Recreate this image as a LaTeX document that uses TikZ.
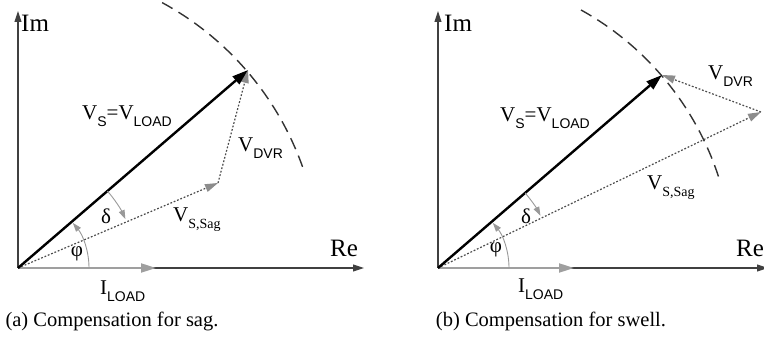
\documentclass[tikz,border=0pt]{standalone}
\usepackage{fontspec}
\setmainfont{Liberation Serif}
\newfontfamily\subsf{Liberation Sans}
\usetikzlibrary{arrows.meta}
\newcommand\ssub[1]{\raisebox{-7pt}{\fontsize{14}{14}\selectfont\subsf #1}}
\newcommand\rsub[1]{\raisebox{-7pt}{\fontsize{14}{14}\selectfont #1}}
\tikzset{
  axisline/.style={draw=black!75, line width=1.1pt, -{Triangle[length=11pt,width=7pt]}},
  vsline/.style={draw=black, line width=2.4pt, -{Triangle[length=16pt,width=10pt]}},
  dotline/.style={draw=black!70, line width=1.2pt, dash pattern=on 1.8pt off 1.8pt,
     -{Triangle[length=13pt,width=8pt,color=gray!90]}},
  iline/.style={draw=gray!75, line width=2pt, -{Triangle[length=15pt,width=9pt]}},
  angarc/.style={draw=gray!80, line width=0.9pt, -{Triangle[length=9pt,width=6pt]}},
  circarc/.style={draw=black!80, line width=1.4pt, dash pattern=on 12pt off 7pt},
  lbl/.style={font=\fontsize{21}{21}\selectfont, inner sep=0pt, anchor=base west},
  axlbl/.style={font=\fontsize{25}{25}\selectfont, inner sep=0pt, anchor=base west},
  captext/.style={font=\fontsize{20.5}{20.5}\selectfont, inner sep=0pt, anchor=base}
}
\begin{document}
\begin{tikzpicture}[x=1pt,y=1pt]
\useasboundingbox (0,0) rectangle (764,340);
% ---------- panel (a) ----------
\coordinate (Oa) at (18,72);
\coordinate (ImA) at (18,329);
\coordinate (ReA) at (364,72);
\coordinate (IA) at (156,72);
\coordinate (VSa) at (248,270);
\coordinate (SAGa) at (218,157);
\draw[axisline] (Oa) -- (ImA);
\draw[axisline] (Oa) -- (ReA);
\draw[iline] (Oa) -- (IA);
\draw[circarc] (Oa) ++(61.5:302) arc[start angle=61.5, end angle=19, radius=302];
\draw[dotline] (Oa) -- (SAGa);
\draw[dotline] (SAGa) -- (VSa);
\draw[vsline] (Oa) -- (VSa);
\draw[angarc] (Oa) ++(0:71) arc[start angle=0, end angle=39.5, radius=71];
\draw[angarc] (Oa) ++(40.7:118) arc[start angle=40.7, end angle=24.5, radius=118];
\node[axlbl] (imA) at (21,308) {Im};
\node[axlbl] (reA) at (330,83) {Re};
\node[lbl] (vsA) at (82,220) {V\ssub{S}=V\ssub{LOAD}};
\node[lbl] (dvrA) at (238,188) {V\ssub{DVR}};
\node[lbl] (sagA) at (173,118) {V\rsub{S,Sag}};
\node[lbl] (ilA) at (100,45) {I\ssub{LOAD}};
\node[lbl, anchor=center] (dA) at (106,124) {δ};
\node[lbl, anchor=center] (pA) at (77,86) {φ};
\node[captext] (capA) at (112,13) {(a) Compensation for sag.};
% ---------- panel (b) ----------
\coordinate (Ob) at (438,72);
\coordinate (ImB) at (438,329);
\coordinate (ReB) at (768,72);
\coordinate (IB) at (574,72);
\coordinate (VSb) at (662,265);
\coordinate (SAGb) at (761,228);
\draw[axisline] (Ob) -- (ImB);
\draw[axisline] (Ob) -- (ReB);
\draw[iline] (Ob) -- (IB);
\draw[circarc] (Ob) ++(61:295) arc[start angle=61, end angle=17, radius=295];
\draw[dotline] (Ob) -- (SAGb);
\draw[dotline] (SAGb) -- (VSb);
\draw[vsline] (Ob) -- (VSb);
\draw[angarc] (Ob) ++(0:71) arc[start angle=0, end angle=39.5, radius=71];
\draw[angarc] (Ob) ++(40.7:115) arc[start angle=40.7, end angle=27, radius=115];
\node[axlbl] (imB) at (444,308) {Im};
\node[axlbl] (reB) at (736,83) {Re};
\node[lbl] (vsB) at (500,218) {V\ssub{S}=V\ssub{LOAD}};
\node[lbl] (dvrB) at (708,260) {V\ssub{DVR}};
\node[lbl] (sagB) at (647,150) {V\rsub{S,Sag}};
\node[lbl] (ilB) at (518,47) {I\ssub{LOAD}};
\node[lbl, anchor=center] (dB) at (526,124) {δ};
\node[lbl, anchor=center] (pB) at (496,90) {φ};
\node[captext] (capB) at (551,13) {(b) Compensation for swell.};
\end{tikzpicture}
\end{document}
